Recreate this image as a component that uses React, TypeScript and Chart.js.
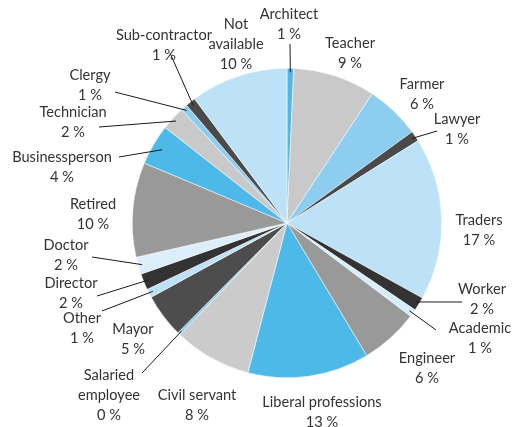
import React, { useEffect, useRef } from "react";
import { Chart, registerables } from "chart.js";

Chart.register(...registerables);

const categories = [
  "Architect", "Teacher", "Farmer", "Lawyer", "Traders", "Worker", "Academic",
  "Engineer", "Liberal professions", "Civil servant", "Salaried employee", "Mayor",
  "Other", "Director", "Doctor", "Retired", "Businessperson", "Technician",
  "Clergy", "Sub-contractor", "Not available",
];
const sliceValues = [
  0.7, 8.6, 5.7, 1.1, 17.0, 1.45, 0.8, 6.1, 12.7, 8.1, 0.3, 4.6,
  0.9, 1.7, 1.8, 9.9, 4.25, 2.5, 0.7, 1.05, 10.2,
];
const percentLabels = [1, 9, 6, 1, 17, 2, 1, 6, 13, 8, 0, 5, 1, 2, 2, 10, 4, 2, 1, 1, 10];
const nameLines: Record<string, string[]> = {
  "Not available": ["Not", "available"],
  "Salaried employee": ["Salaried", "employee"],
};

const colors = [
  "#4cb9e9", "#c9c9c9", "#8dcdf0", "#4a4a4a", "#bde1f6", "#333333", "#d6edfa",
  "#999999", "#4cb9e9", "#cbcbcb", "#8dcdf0", "#4d4d4d", "#bde1f6", "#333333",
  "#dbeefa", "#999999", "#4cb9e9", "#c9c9c9", "#8dcdf0", "#4a4a4a", "#bde1f6",
];

// label layout: text anchor (first line centre) and optional leader start
type LabelPos = { x: number; y: number; lx?: number; ly?: number; inset?: number };
const labelLayout: LabelPos[] = [
  { x: 289, y: 14, lx: 290, ly: 44 },
  { x: 350, y: 43 },
  { x: 422, y: 84 },
  { x: 457, y: 119, lx: 437, ly: 131 },
  { x: 479, y: 220 },
  { x: 482, y: 289, lx: 462, ly: 302 },
  { x: 480, y: 328, lx: 436, ly: 330 },
  { x: 427, y: 358 },
  { x: 322, y: 402 },
  { x: 197, y: 395 },
  { x: 109, y: 375, lx: 142, ly: 373 },
  { x: 133, y: 329 },
  { x: 82, y: 318, lx: 102, ly: 311 },
  { x: 71, y: 283, lx: 97, ly: 296 },
  { x: 66, y: 245, lx: 92, ly: 257 },
  { x: 93, y: 204 },
  { x: 62, y: 157, lx: 119, ly: 157, inset: 10 },
  { x: 73, y: 112, lx: 99, ly: 127 },
  { x: 90, y: 75, lx: 115, ly: 92 },
  { x: 164, y: 35, lx: 170, ly: 53 },
  { x: 236, y: 24 },
];

const labelPlugin = {
  id: "pieLabels",
  afterDraw(chart: any) {
    const ctx = chart.ctx;
    const meta = chart.getDatasetMeta(0);
    ctx.save();
    ctx.font = "14.6px Lato";
    ctx.fillStyle = "#333333";
    ctx.textAlign = "center";
    ctx.textBaseline = "middle";
    meta.data.forEach((arc: any, i: number) => {
      const pos = labelLayout[i];
      const { x, y, startAngle, endAngle, outerRadius } = arc.getProps(
        ["x", "y", "startAngle", "endAngle", "outerRadius"], true);
      if (pos.lx !== undefined && pos.ly !== undefined) {
        const mid = (startAngle + endAngle) / 2;
        const r = outerRadius - (pos.inset ?? 4);
        ctx.strokeStyle = "#1a1a1a";
        ctx.lineWidth = 1;
        ctx.beginPath();
        ctx.moveTo(pos.lx, pos.ly);
        ctx.lineTo(x + Math.cos(mid) * r, y + Math.sin(mid) * r);
        ctx.stroke();
      }
      const lines = [...(nameLines[categories[i]] ?? [categories[i]]), `${percentLabels[i]} %`];
      lines.forEach((t, k) => ctx.fillText(t, pos.x, pos.y + k * 20));
    });
    ctx.restore();
  },
};

export default function App() {
  const ref = useRef<HTMLCanvasElement>(null);
  useEffect(() => {
    document.body.style.margin = "0";
    const chart = new Chart(ref.current!, {
      type: "pie",
      data: {
        labels: categories,
        datasets: [{
          data: sliceValues,
          backgroundColor: colors,
          borderColor: "#ffffff",
          borderWidth: 0.5,
        }],
      },
      options: {
        responsive: false,
        animation: false,
        layout: { padding: { left: 132, right: 73, top: 68, bottom: 49 } },
        plugins: { legend: { display: false }, tooltip: { enabled: false } },
      },
      plugins: [labelPlugin],
    });
    return () => chart.destroy();
  }, []);
  return (
    <div style={{ position: "fixed", left: 0, top: 0, width: 515, height: 427, background: "#fff" }}>
      <canvas ref={ref} width={515} height={427} />
    </div>
  );
}
